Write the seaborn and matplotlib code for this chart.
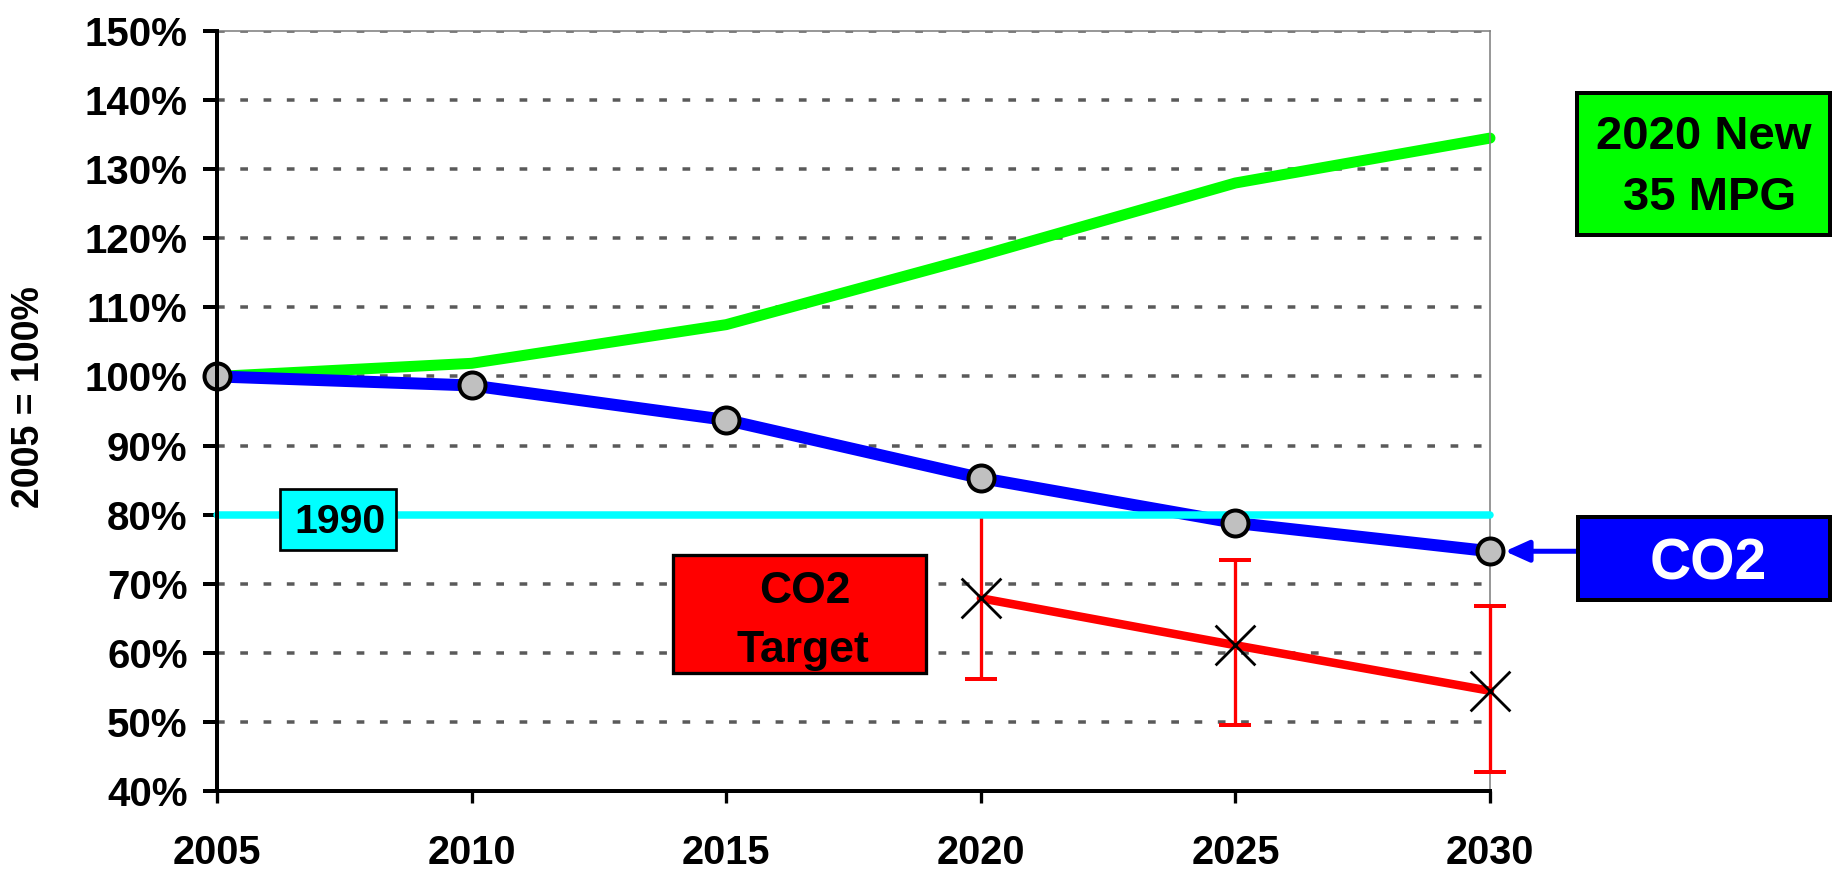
import matplotlib
matplotlib.use("Agg")
import matplotlib.pyplot as plt
import matplotlib.transforms as mtransforms
from matplotlib.patches import Rectangle
import seaborn as sns

# ---------------- data ----------------
years = [2005, 2010, 2015, 2020, 2025, 2030]
mpg_35_by_2020 = [100.0, 101.9, 107.5, 117.5, 128.0, 134.5]
co2 = [100.0, 98.7, 93.7, 85.3, 78.8, 74.7]
level_1990 = [80.0, 80.0, 80.0, 80.0, 80.0, 80.0]
target_years = [2020, 2025, 2030]
co2_target = [67.9, 61.1, 54.5]
target_upper = [80.0, 73.4, 66.8]
target_lower = [56.2, 49.6, 42.8]
y_ticks = [40, 50, 60, 70, 80, 90, 100, 110, 120, 130, 140, 150]
y_tick_labels = ["40%", "50%", "60%", "70%", "80%", "90%", "100%",
                 "110%", "120%", "130%", "140%", "150%"]
x_tick_labels = ["2005", "2010", "2015", "2020", "2025", "2030"]

# ---------------- style ----------------
sns.set_style("white")
plt.rcParams["font.family"] = ["Liberation Sans", "DejaVu Sans"]
plt.rcParams["font.weight"] = "bold"
plt.rcParams["text.color"] = "black"
plt.rcParams["axes.labelcolor"] = "black"

W, H = 1836, 869
fig = plt.figure(figsize=(W / 100, H / 100), dpi=100)
L, R, T, B = 217, 1490, 31, 791
ax = fig.add_axes([L / W, 1 - B / H, (R - L) / W, (B - T) / H])


def px(v):
    return v * 72.0 / 100.0


ax.set_axisbelow(True)
ax.yaxis.grid(True, color="#5a5a5a", linewidth=px(3.5), linestyle=(0, (2.2, 4.45)))
ax.xaxis.grid(False)

# green: 2020 new 35 MPG
sns.lineplot(x=years, y=mpg_35_by_2020, color="#00ff00", linewidth=px(11),
             solid_capstyle="round", solid_joinstyle="round",
             clip_on=False, zorder=2, ax=ax)
# blue CO2 line
sns.lineplot(x=years, y=co2, color="#0000ff", linewidth=px(12),
             solid_capstyle="butt", solid_joinstyle="round",
             clip_on=False, zorder=3, ax=ax)
# red target error bars
low_err = [c - l for c, l in zip(co2_target, target_lower)]
up_err = [u - c for c, u in zip(co2_target, target_upper)]
eb = ax.errorbar(target_years, co2_target, yerr=[low_err, up_err], fmt="none",
                 ecolor="#ff0000", elinewidth=px(3.3), capsize=px(16),
                 capthick=px(4), zorder=3.5)
for art in list(eb.lines[1]) + list(eb.lines[2]):
    art.set_clip_on(False)
# red target line
sns.lineplot(x=target_years, y=co2_target, color="#ff0000", linewidth=px(8.5),
             clip_on=False, zorder=4, ax=ax)
# cyan 1990 level
sns.lineplot(x=years, y=level_1990, color="#00ffff", linewidth=px(7.5),
             solid_capstyle="round", clip_on=False, zorder=5, ax=ax)
# CO2 markers
sns.scatterplot(x=years, y=co2, s=350, color="#c0c0c0", edgecolor="black",
                linewidth=px(4), clip_on=False, zorder=6, ax=ax)
# target x markers
sns.scatterplot(x=target_years, y=co2_target, marker="x", s=820, color="black",
                linewidth=px(2.8), clip_on=False, zorder=7, ax=ax)

ax.set_xlim(2005, 2030)
ax.set_ylim(40, 150)
ax.set_xticks(years)
ax.set_xticklabels(x_tick_labels)
ax.set_yticks(y_ticks)
ax.set_yticklabels(y_tick_labels)
ax.set_xlabel("")
ax.set_ylabel("")
ax.tick_params(axis="x", bottom=True, direction="out", length=px(12),
               width=px(3.3), pad=22, labelsize=28.5, colors="black")
ax.tick_params(axis="y", left=True, direction="out", length=px(14),
               width=px(4), pad=11, labelsize=29, colors="black")
for lab in ax.get_xticklabels() + ax.get_yticklabels():
    lab.set_fontweight("bold")

for s in ["left", "bottom"]:
    ax.spines[s].set_color("black")
    ax.spines[s].set_linewidth(px(4))
    ax.spines[s].set_zorder(8)
for s in ["top", "right"]:
    ax.spines[s].set_color("#808080")
    ax.spines[s].set_linewidth(px(1.6))

# y label
fig.text(29 / W, 1 - 397.5 / H, "2005 = 100%", rotation=90, ha="center",
         va="center", fontsize=27, fontweight="bold", color="black")


def box(x0, y0, x1, y1, fc, lw_px):
    h = lw_px / 2.0
    fig.add_artist(Rectangle(((x0 + h) / W, 1 - (y1 - h) / H),
                             (x1 - x0 - lw_px) / W, (y1 - y0 - lw_px) / H,
                             transform=fig.transFigure, facecolor=fc,
                             edgecolor="black", linewidth=px(lw_px), zorder=10))


def label(x, baseline, s, size, color="black"):
    fig.text(x / W, 1 - baseline / H, s, ha="center", va="baseline",
             fontsize=size, fontweight="bold", color=color, zorder=11)


# green box
box(1575, 91, 1832, 237, "#00ff00", 4)
label(1703.5, 149, "2020 New", 34)
label(1709.5, 210, "35 MPG", 34)

# blue box
box(1576, 515, 1832, 602, "#0000ff", 4)
label(1708, 579, "CO2", 41, color="white")

# red box
box(671, 553, 928, 675, "#ff0000", 3.3)
label(804.5, 603, "CO2", 32)
label(802.5, 662, "Target", 32)

# 1990 box
box(279, 488, 397, 551, "#00ffff", 2.7)
label(340, 533, "1990", 29.5)

# arrow from CO2 box to last CO2 point
blend = mtransforms.blended_transform_factory(fig.transFigure, ax.transData)
ax.annotate("", xy=(years[-1], co2[-1]), xycoords="data",
            xytext=(1576 / W, co2[-1]), textcoords=blend,
            arrowprops=dict(arrowstyle="-|>,head_length=0.8,head_width=0.36",
                            mutation_scale=18, color="#0000ff", lw=px(5),
                            shrinkA=0, shrinkB=px(15)),
            annotation_clip=False)

fig.savefig("out.png", dpi=100)
